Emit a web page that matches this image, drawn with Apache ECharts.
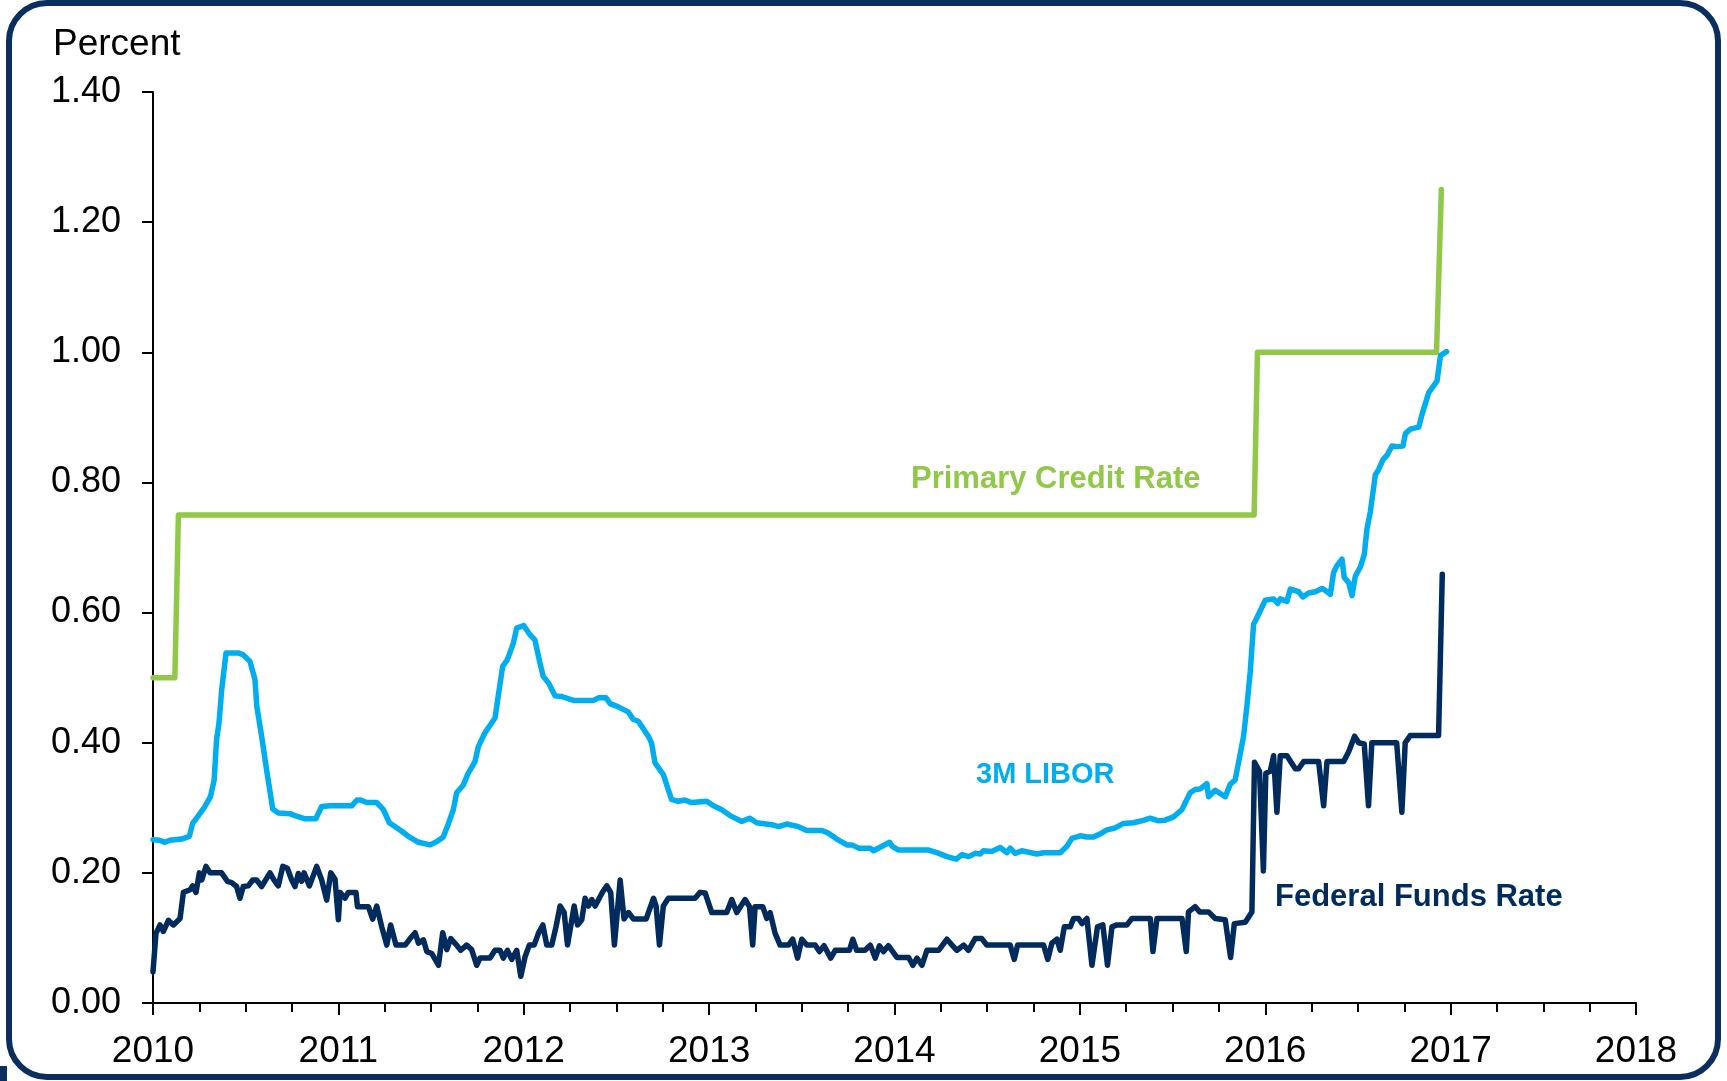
<!DOCTYPE html>
<html>
<head>
<meta charset="utf-8">
<title>Primary Credit Rate, 3M LIBOR and Federal Funds Rate</title>
<script src="https://cdn.jsdelivr.net/npm/echarts@6/dist/echarts.min.js"></script>
<style>
  html, body { margin: 0; padding: 0; background: #fff; }
  #main { width: 1727px; height: 1081px; }
</style>
</head>
<body>
<div id="main"></div>
<script>
// values, x = decimal year, y = percent
const yearTicks = [2010, 2011, 2012, 2013, 2014, 2015, 2016, 2017, 2018]
const percentTicks = [0, 0.2, 0.4, 0.6, 0.8, 1.0, 1.2, 1.4]

const primaryCredit = [
  [2010.000, 0.50], [2010.118, 0.50], [2010.137, 0.75], [2015.940, 0.75],
  [2015.958, 1.00], [2016.924, 1.00], [2016.950, 1.25]
]

const libor3m = [
  [2010.000, 0.251], [2010.036, 0.250], [2010.063, 0.247], [2010.090, 0.250], [2010.154, 0.252],
  [2010.196, 0.256], [2010.214, 0.276], [2010.245, 0.288], [2010.280, 0.302], [2010.310, 0.317],
  [2010.330, 0.343], [2010.343, 0.405], [2010.356, 0.430], [2010.370, 0.480], [2010.394, 0.538],
  [2010.460, 0.538], [2010.487, 0.535], [2010.523, 0.525], [2010.550, 0.497], [2010.560, 0.456],
  [2010.586, 0.410], [2010.613, 0.358], [2010.646, 0.298], [2010.676, 0.292], [2010.739, 0.291],
  [2010.775, 0.287], [2010.820, 0.283], [2010.878, 0.283], [2010.910, 0.302], [2010.955, 0.303],
  [2011.072, 0.303], [2011.100, 0.312], [2011.120, 0.312], [2011.153, 0.308], [2011.207, 0.308],
  [2011.243, 0.297], [2011.275, 0.277], [2011.342, 0.264], [2011.378, 0.256], [2011.432, 0.247],
  [2011.495, 0.243], [2011.530, 0.248], [2011.566, 0.255], [2011.594, 0.276], [2011.620, 0.297],
  [2011.638, 0.323], [2011.674, 0.335], [2011.700, 0.353], [2011.737, 0.371], [2011.755, 0.394],
  [2011.790, 0.415], [2011.845, 0.438], [2011.862, 0.471], [2011.886, 0.517], [2011.912, 0.528],
  [2011.944, 0.553], [2011.962, 0.576], [2012.000, 0.580], [2012.033, 0.566], [2012.060, 0.558],
  [2012.087, 0.523], [2012.105, 0.502], [2012.133, 0.492], [2012.169, 0.472], [2012.205, 0.471],
  [2012.268, 0.465], [2012.376, 0.465], [2012.403, 0.469], [2012.444, 0.469], [2012.466, 0.460],
  [2012.510, 0.455], [2012.565, 0.447], [2012.590, 0.436], [2012.618, 0.433], [2012.672, 0.410],
  [2012.690, 0.399], [2012.708, 0.369], [2012.753, 0.351], [2012.797, 0.313], [2012.833, 0.310],
  [2012.869, 0.312], [2012.905, 0.308], [2012.987, 0.310], [2013.023, 0.303], [2013.068, 0.297],
  [2013.113, 0.288], [2013.176, 0.279], [2013.218, 0.284], [2013.257, 0.277], [2013.338, 0.274],
  [2013.374, 0.271], [2013.419, 0.275], [2013.482, 0.271], [2013.527, 0.265], [2013.608, 0.265],
  [2013.644, 0.261], [2013.689, 0.252], [2013.743, 0.243], [2013.770, 0.243], [2013.806, 0.238],
  [2013.869, 0.238], [2013.887, 0.234], [2013.974, 0.247], [2013.986, 0.241], [2014.022, 0.235],
  [2014.184, 0.235], [2014.229, 0.231], [2014.283, 0.225], [2014.333, 0.221], [2014.364, 0.228],
  [2014.400, 0.225], [2014.435, 0.230], [2014.462, 0.229], [2014.480, 0.234], [2014.525, 0.233],
  [2014.570, 0.239], [2014.606, 0.231], [2014.624, 0.238], [2014.651, 0.230], [2014.687, 0.234],
  [2014.768, 0.229], [2014.804, 0.231], [2014.894, 0.231], [2014.930, 0.241], [2014.957, 0.253],
  [2015.002, 0.257], [2015.038, 0.255], [2015.074, 0.255], [2015.110, 0.260], [2015.146, 0.266],
  [2015.190, 0.269], [2015.235, 0.276], [2015.289, 0.277], [2015.334, 0.280], [2015.379, 0.284],
  [2015.424, 0.280], [2015.460, 0.281], [2015.505, 0.286], [2015.550, 0.297], [2015.595, 0.323],
  [2015.622, 0.328], [2015.649, 0.329], [2015.685, 0.337], [2015.694, 0.317], [2015.730, 0.327],
  [2015.784, 0.317], [2015.811, 0.336], [2015.838, 0.343], [2015.865, 0.383], [2015.883, 0.410],
  [2015.901, 0.456], [2015.919, 0.509], [2015.937, 0.582], [2015.955, 0.592], [2016.000, 0.619],
  [2016.045, 0.621], [2016.067, 0.614], [2016.081, 0.621], [2016.117, 0.617], [2016.135, 0.636],
  [2016.180, 0.632], [2016.203, 0.624], [2016.234, 0.630], [2016.270, 0.632], [2016.306, 0.637],
  [2016.324, 0.634], [2016.351, 0.628], [2016.369, 0.662], [2016.387, 0.672], [2016.414, 0.682],
  [2016.426, 0.654], [2016.450, 0.646], [2016.468, 0.626], [2016.486, 0.656], [2016.513, 0.670],
  [2016.534, 0.689], [2016.549, 0.729], [2016.567, 0.755], [2016.594, 0.812], [2016.612, 0.820],
  [2016.635, 0.835], [2016.657, 0.842], [2016.684, 0.856], [2016.711, 0.855], [2016.743, 0.856],
  [2016.756, 0.875], [2016.783, 0.882], [2016.828, 0.885], [2016.846, 0.905], [2016.882, 0.938],
  [2016.927, 0.956], [2016.945, 0.995], [2016.978, 1.001]
]

const fedFunds = [
  [2010.000, 0.048], [2010.016, 0.107], [2010.038, 0.120], [2010.056, 0.110], [2010.083, 0.127],
  [2010.110, 0.120], [2010.146, 0.130], [2010.164, 0.170], [2010.200, 0.174], [2010.214, 0.180],
  [2010.232, 0.170], [2010.250, 0.200], [2010.263, 0.189], [2010.286, 0.210], [2010.308, 0.200],
  [2010.370, 0.200], [2010.401, 0.187], [2010.424, 0.185], [2010.451, 0.179], [2010.469, 0.161],
  [2010.487, 0.179], [2010.514, 0.180], [2010.538, 0.189], [2010.559, 0.189], [2010.586, 0.179],
  [2010.631, 0.200], [2010.653, 0.189], [2010.676, 0.180], [2010.700, 0.210], [2010.725, 0.207],
  [2010.748, 0.189], [2010.766, 0.179], [2010.784, 0.199], [2010.802, 0.187], [2010.815, 0.200],
  [2010.844, 0.180], [2010.883, 0.210], [2010.910, 0.189], [2010.937, 0.158], [2010.959, 0.200],
  [2010.982, 0.190], [2011.000, 0.128], [2011.009, 0.170], [2011.036, 0.161], [2011.054, 0.170],
  [2011.095, 0.170], [2011.103, 0.148], [2011.162, 0.148], [2011.185, 0.129], [2011.207, 0.149],
  [2011.234, 0.117], [2011.261, 0.089], [2011.282, 0.120], [2011.311, 0.089], [2011.360, 0.089],
  [2011.387, 0.099], [2011.414, 0.108], [2011.432, 0.092], [2011.459, 0.097], [2011.477, 0.079],
  [2011.504, 0.076], [2011.540, 0.058], [2011.563, 0.108], [2011.585, 0.082], [2011.606, 0.099],
  [2011.638, 0.089], [2011.660, 0.081], [2011.692, 0.089], [2011.719, 0.082], [2011.746, 0.058],
  [2011.764, 0.069], [2011.818, 0.069], [2011.845, 0.081], [2011.872, 0.081], [2011.890, 0.069],
  [2011.912, 0.081], [2011.935, 0.067], [2011.962, 0.081], [2011.984, 0.041], [2012.007, 0.071],
  [2012.030, 0.089], [2012.056, 0.089], [2012.079, 0.107], [2012.103, 0.120], [2012.124, 0.089],
  [2012.151, 0.089], [2012.174, 0.117], [2012.196, 0.149], [2012.218, 0.139], [2012.236, 0.089],
  [2012.272, 0.149], [2012.290, 0.120], [2012.313, 0.128], [2012.331, 0.161], [2012.349, 0.149],
  [2012.367, 0.159], [2012.385, 0.149], [2012.426, 0.171], [2012.448, 0.180], [2012.469, 0.170],
  [2012.489, 0.089], [2012.520, 0.189], [2012.541, 0.129], [2012.565, 0.139], [2012.592, 0.129],
  [2012.660, 0.129], [2012.700, 0.161], [2012.714, 0.149], [2012.732, 0.089], [2012.753, 0.149],
  [2012.780, 0.161], [2012.924, 0.161], [2012.951, 0.170], [2012.979, 0.169], [2013.014, 0.139],
  [2013.095, 0.139], [2013.122, 0.159], [2013.149, 0.139], [2013.194, 0.159], [2013.218, 0.148],
  [2013.235, 0.089], [2013.248, 0.148], [2013.289, 0.148], [2013.311, 0.130], [2013.329, 0.139],
  [2013.356, 0.107], [2013.383, 0.089], [2013.428, 0.089], [2013.451, 0.098], [2013.477, 0.069],
  [2013.500, 0.098], [2013.527, 0.089], [2013.572, 0.089], [2013.595, 0.079], [2013.620, 0.088],
  [2013.656, 0.069], [2013.680, 0.081], [2013.757, 0.081], [2013.775, 0.098], [2013.796, 0.081],
  [2013.841, 0.081], [2013.869, 0.089], [2013.896, 0.069], [2013.919, 0.088], [2013.940, 0.079],
  [2013.967, 0.088], [2014.013, 0.070], [2014.076, 0.070], [2014.099, 0.058], [2014.121, 0.069],
  [2014.148, 0.058], [2014.175, 0.081], [2014.238, 0.081], [2014.283, 0.098], [2014.310, 0.089],
  [2014.337, 0.081], [2014.373, 0.089], [2014.399, 0.081], [2014.435, 0.099], [2014.471, 0.099],
  [2014.498, 0.089], [2014.624, 0.089], [2014.646, 0.067], [2014.664, 0.089], [2014.804, 0.089],
  [2014.827, 0.067], [2014.849, 0.092], [2014.876, 0.098], [2014.894, 0.081], [2014.916, 0.117],
  [2014.948, 0.117], [2014.966, 0.130], [2014.993, 0.130], [2015.011, 0.122], [2015.038, 0.130],
  [2015.065, 0.058], [2015.095, 0.117], [2015.124, 0.120], [2015.149, 0.058], [2015.173, 0.117],
  [2015.200, 0.120], [2015.254, 0.120], [2015.281, 0.130], [2015.380, 0.130], [2015.394, 0.079],
  [2015.416, 0.130], [2015.551, 0.130], [2015.574, 0.079], [2015.586, 0.140], [2015.622, 0.148],
  [2015.646, 0.140], [2015.694, 0.140], [2015.730, 0.130], [2015.784, 0.128], [2015.813, 0.070],
  [2015.833, 0.122], [2015.892, 0.124], [2015.928, 0.140], [2015.942, 0.370], [2015.969, 0.356],
  [2015.990, 0.203], [2016.003, 0.353], [2016.027, 0.356], [2016.045, 0.380], [2016.063, 0.293],
  [2016.081, 0.380], [2016.117, 0.380], [2016.162, 0.360], [2016.180, 0.360], [2016.207, 0.371],
  [2016.288, 0.371], [2016.315, 0.303], [2016.333, 0.371], [2016.423, 0.371], [2016.450, 0.386],
  [2016.482, 0.410], [2016.504, 0.400], [2016.534, 0.398], [2016.557, 0.303], [2016.575, 0.400],
  [2016.709, 0.400], [2016.737, 0.293], [2016.755, 0.400], [2016.782, 0.411], [2016.935, 0.411],
  [2016.955, 0.659]
]

const GREEN = '#92c84a'
const BLUE = '#00aeef'
const NAVY = '#002b5c'
const FONT = '"Liberation Sans", Arial, sans-serif'

const chart = echarts.init(document.getElementById('main'))

function lineSeries(name, data, color) {
  return {
    name: name,
    type: 'line',
    data: data,
    showSymbol: false,
    symbol: 'none',
    lineStyle: { color: color, width: 5.5, cap: 'round', join: 'round' },
    itemStyle: { color: color },
    z: 3
  }
}

chart.setOption({
  animation: false,
  backgroundColor: '#fff',
  textStyle: { fontFamily: FONT },
  grid: { left: 153, right: 91, top: 92, bottom: 78 },
  xAxis: {
    type: 'value',
    min: yearTicks[0],
    max: yearTicks[yearTicks.length - 1],
    interval: 1,
    axisLine: { onZero: false, lineStyle: { color: '#000', width: 2 } },
    axisTick: { length: 12, lineStyle: { color: '#000', width: 2 } },
    minorTick: { show: true, splitNumber: 4, length: 9, lineStyle: { color: '#000', width: 2 } },
    splitLine: { show: false },
    axisLabel: {
      margin: 30,
      color: '#000',
      fontSize: 37,
      fontFamily: FONT,
      formatter: (v) => String(v)
    }
  },
  yAxis: {
    type: 'value',
    min: percentTicks[0],
    max: percentTicks[percentTicks.length - 1],
    interval: 0.2,
    axisLine: { show: true, lineStyle: { color: '#000', width: 2 } },
    axisTick: { show: true, length: 11, lineStyle: { color: '#000', width: 2 } },
    splitLine: { show: false },
    axisLabel: {
      margin: 32,
      color: '#000',
      fontSize: 36,
      fontFamily: FONT,
      formatter: (v) => v.toFixed(2)
    }
  },
  graphic: [
    {
      type: 'rect',
      shape: { x: 9, y: 3, width: 1709, height: 1074, r: 38 },
      style: { fill: 'none', stroke: '#0a2f5f', lineWidth: 6 },
      z: 10
    },
    {
      type: 'rect',
      shape: { x: 0, y: 1066, width: 7, height: 15 },
      style: { fill: '#0a2f5f' },
      z: 10
    },
    {
      type: 'text',
      left: 53,
      top: 26,
      style: { text: 'Percent', fill: '#000', font: '37px ' + FONT }
    },
    {
      type: 'text',
      left: 911,
      top: 464,
      style: { text: 'Primary Credit Rate', fill: GREEN, font: 'bold 31px ' + FONT }
    },
    {
      type: 'text',
      left: 976,
      top: 760,
      style: { text: '3M LIBOR', fill: BLUE, font: 'bold 29px ' + FONT }
    },
    {
      type: 'text',
      left: 1275,
      top: 882,
      style: { text: 'Federal Funds Rate', fill: NAVY, font: 'bold 31px ' + FONT }
    }
  ],
  series: [
    lineSeries('Primary Credit Rate', primaryCredit, GREEN),
    lineSeries('3M LIBOR', libor3m, BLUE),
    lineSeries('Federal Funds Rate', fedFunds, NAVY)
  ]
})
</script>
</body>
</html>
